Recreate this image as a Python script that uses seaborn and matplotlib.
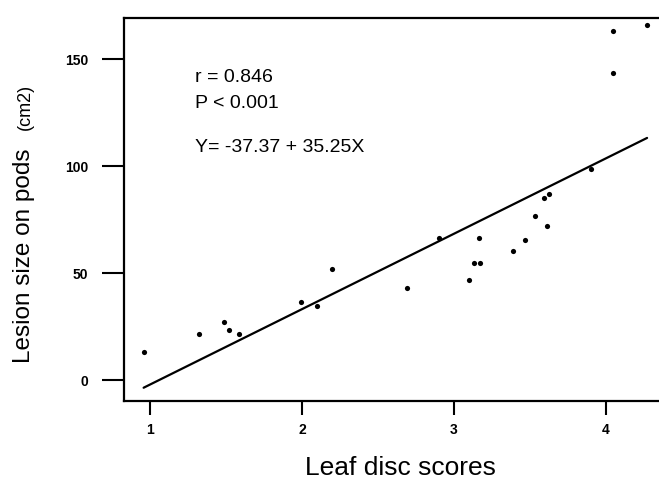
import numpy as np
import pandas as pd
import matplotlib
matplotlib.use("Agg")
import matplotlib.pyplot as plt
import seaborn as sns

# ---- data ----
leaf_disc_scores = [0.958, 1.32, 1.484, 1.522, 1.587, 1.996, 2.10, 2.196, 2.69, 2.90,
                    3.096, 3.13, 3.17, 3.166, 3.39, 3.47, 3.53, 3.61, 3.592, 3.627,
                    3.90, 4.047, 4.047, 4.27]
lesion_size = [13.2, 21.4, 27.3, 23.2, 21.4, 36.3, 34.7, 51.9, 42.8, 66.2,
               46.7, 54.7, 54.7, 66.5, 60.4, 65.3, 76.5, 71.8, 84.9, 86.9,
               98.4, 143.3, 163.2, 165.9]
intercept = -37.37
slope = 35.25
x_ticks = [1, 2, 3, 4]
y_ticks = [0, 50, 100, 150]
annot_lines = ["r = 0.846", "P < 0.001", "Y= -37.37 + 35.25X"]

sns.set_style("ticks")
plt.rcParams['font.family'] = ['Liberation Sans', 'DejaVu Sans']
plt.rcParams['text.color'] = 'black'
plt.rcParams['axes.labelcolor'] = 'black'
plt.rcParams['xtick.color'] = 'black'
plt.rcParams['ytick.color'] = 'black'

df = pd.DataFrame({"x": leaf_disc_scores, "y": lesion_size})
x_fit = np.array([min(leaf_disc_scores), max(leaf_disc_scores)])
fit = pd.DataFrame({"x": x_fit, "y": intercept + slope * x_fit})

W, H = 659, 490
fig = plt.figure(figsize=(W / 100, H / 100), dpi=100)
left, right, top, bottom = 124, 660, 18, 401
ax = fig.add_axes([left / W, 1 - bottom / H, (right - left) / W, (bottom - top) / H])

sns.lineplot(data=fit, x="x", y="y", ax=ax, color="black", linewidth=1.6)
sns.scatterplot(data=df, x="x", y="y", ax=ax, color="black", s=14,
                edgecolor="black", linewidth=0, zorder=3)

ax.set_xlim(0.829, 4.355)
ax.set_ylim(-9.8, 169.2)
ax.set_xticks(x_ticks)
ax.set_yticks(y_ticks)
ax.set_xticklabels([str(t) for t in x_ticks], fontsize=10, fontweight="bold")
ax.set_yticklabels([str(t) for t in y_ticks], fontsize=10, fontweight="bold")
ax.tick_params(axis="y", direction="out", length=16, width=1.5, pad=10)
ax.tick_params(axis="x", direction="out", length=10, width=1.5, pad=6)
ax.spines["right"].set_visible(False)
for s in ["left", "bottom", "top"]:
    ax.spines[s].set_linewidth(1.6)
    ax.spines[s].set_color("black")

ax.set_xlabel("")
ax.set_ylabel("")
fig.text(400 / W, 1 - 468 / H, "Leaf disc scores", fontsize=19,
         ha="center", va="center")
fig.text(24 / W, 1 - 256 / H, "Lesion size on pods", fontsize=17.5,
         rotation=90, ha="center", va="center")
fig.text(25 / W, 1 - 107 / H, "(cm2)", fontsize=13,
         rotation=90, ha="center", va="center")

ys = [77, 103, 147]
for txt, yy in zip(annot_lines, ys):
    fig.text(195 / W, 1 - yy / H, txt, fontsize=14, ha="left", va="center")

fig.savefig("out.png", dpi=100)
